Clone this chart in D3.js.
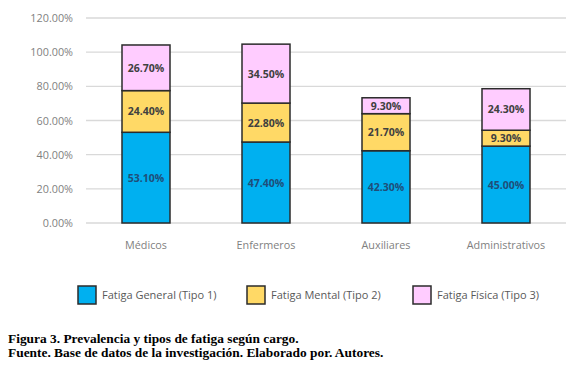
<!DOCTYPE html>
<html><head><meta charset="utf-8">
<script src="https://cdn.jsdelivr.net/npm/d3@7"></script>
<style>body{margin:0;background:#fff}svg{display:block}</style>
</head><body>
<script>
const categories = ["Médicos","Enfermeros","Auxiliares","Administrativos"];
const seriesNames = ["Fatiga General (Tipo 1)","Fatiga Mental (Tipo 2)","Fatiga Física (Tipo 3)"];
const general = [53.1, 47.4, 42.3, 45.0];
const mental = [24.4, 22.8, 21.7, 9.3];
const fisica = [26.7, 34.5, 9.3, 24.3];
const yTicks = [0,20,40,60,80,100,120];
const colors = ["#00B0F0","#FFD966","#FFCCFF"];

const W=574,H=367;
const svg=d3.select("body").append("svg").attr("width",W).attr("height",H);
const x=d3.scaleBand().domain(categories).range([86,566]).paddingInner(0.6).paddingOuter(0.3);
const y=d3.scaleLinear().domain([0,120]).range([223,18]);

const g=svg.append("g");
g.selectAll("line.grid").data(yTicks).enter().append("line")
 .attr("x1",86).attr("x2",566).attr("y1",d=>y(d)).attr("y2",d=>y(d))
 .attr("stroke","#d9d9d9").attr("stroke-width",1.3);
g.selectAll("text.tick").data(yTicks).enter().append("text")
 .attr("x",73).attr("y",d=>y(d)+4).attr("text-anchor","end")
 .attr("font-family","Open Sans, Liberation Sans, sans-serif").attr("font-size",10.8).attr("fill","#7f7f7f")
 .text(d=>d.toFixed(2)+"%");

const data=categories.map((c,i)=>({cat:c,v:[general[i],mental[i],fisica[i]]}));
const stack=d3.stack().keys([0,1,2]).value((d,k)=>d.v[k]);
const layers=stack(data);
layers.forEach((layer,k)=>{
  layer.forEach(s=>{
    const cat=s.data.cat;
    g.append("rect").attr("x",x(cat)).attr("width",x.bandwidth())
     .attr("y",y(s[1])).attr("height",y(s[0])-y(s[1]))
     .attr("fill",colors[k]).attr("stroke","#2b2b2b").attr("stroke-width",1.5);
  });
});
layers.forEach((layer,k)=>{
  layer.forEach(s=>{
    const cat=s.data.cat;
    g.append("text").attr("x",x(cat)+x.bandwidth()/2).attr("y",(y(s[0])+y(s[1]))/2+4)
     .attr("text-anchor","middle").attr("font-family","Open Sans, Liberation Sans, sans-serif")
     .attr("font-size",10.5).attr("font-weight","bold").attr("fill",k===0?"#1f4e79":"#404040")
     .text(s.data.v[k].toFixed(2)+"%");
  });
});
g.selectAll("text.cat").data(categories).enter().append("text")
 .attr("x",d=>x(d)+x.bandwidth()/2).attr("y",249).attr("text-anchor","middle")
 .attr("font-family","Open Sans, Liberation Sans, sans-serif").attr("font-size",10.8).attr("fill","#7f7f7f")
 .text(d=>d);

const legX=[78,247,413];
seriesNames.forEach((n,i)=>{
  svg.append("rect").attr("x",legX[i]).attr("y",286).attr("width",18).attr("height",18)
   .attr("fill",colors[i]).attr("stroke","#2b2b2b").attr("stroke-width",1.5);
  svg.append("text").attr("x",legX[i]+24).attr("y",299)
   .attr("font-family","Open Sans, Liberation Sans, sans-serif").attr("font-size",11).attr("fill","#595959")
   .text(n);
});
svg.append("text").attr("x",8).attr("y",343).attr("font-family","Liberation Serif, Times New Roman, serif")
 .attr("font-size",13.4).attr("font-weight","bold").attr("fill","#000").text("Figura 3. Prevalencia y tipos de fatiga según cargo.");
svg.append("text").attr("x",8).attr("y",357).attr("font-family","Liberation Serif, Times New Roman, serif")
 .attr("font-size",13.4).attr("font-weight","bold").attr("fill","#000").text("Fuente. Base de datos de la investigación. Elaborado por. Autores.");
</script>
</body></html>
